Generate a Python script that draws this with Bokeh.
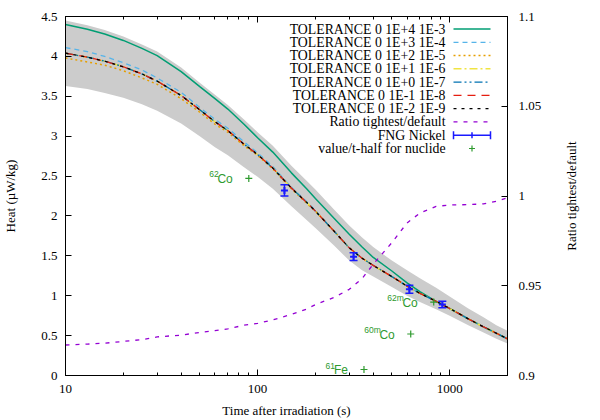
import math
from bokeh.plotting import figure
from bokeh.layouts import row
from bokeh.models import (Range1d, LinearAxis, LogAxis, FixedTicker, CustomJSTickFormatter,
                          ColumnDataSource, LinearScale)
from bokeh.core.properties import value
from bokeh.embed import file_html
from bokeh.resources import INLINE

# ---------------- data ----------------
times = [10, 13, 16, 20, 25, 30, 40, 50, 60, 70, 85, 100, 120, 150, 180, 200, 250, 300,
         350, 400, 500, 600, 700, 850, 1000, 1250, 1500, 1750, 2000]
tol_p4_m3 = [4.40, 4.34, 4.28, 4.20, 4.10, 4.01, 3.81, 3.62, 3.47, 3.34, 3.15, 2.98, 2.80, 2.54,
             2.34, 2.22, 1.97, 1.77, 1.61, 1.48, 1.31, 1.16, 1.05, 0.93, 0.84, 0.71, 0.61, 0.53, 0.46]
tol_p3_m4 = [4.11, 4.06, 4.00, 3.92, 3.83, 3.73, 3.55, 3.36, 3.21, 3.10, 2.93, 2.79, 2.62, 2.36,
             2.18, 2.07, 1.81, 1.60, 1.47, 1.38, 1.24, 1.12, 1.03, 0.93, 0.84, 0.71, 0.61, 0.53, 0.46]
tol_p2_m5 = [3.98, 3.93, 3.89, 3.82, 3.73, 3.65, 3.47, 3.30, 3.15, 3.05, 2.88, 2.76, 2.59, 2.34,
             2.16, 2.06, 1.81, 1.60, 1.47, 1.38, 1.24, 1.12, 1.03, 0.93, 0.84, 0.71, 0.61, 0.53, 0.46]
tol_p1_m6 = [4.04, 3.99, 3.94, 3.87, 3.78, 3.69, 3.51, 3.33, 3.18, 3.07, 2.90, 2.77, 2.60, 2.35,
             2.17, 2.06, 1.81, 1.60, 1.47, 1.38, 1.24, 1.12, 1.03, 0.93, 0.84, 0.71, 0.61, 0.53, 0.46]
tol_p0_m7 = [4.04, 3.99, 3.94, 3.87, 3.78, 3.69, 3.51, 3.33, 3.18, 3.07, 2.90, 2.77, 2.60, 2.35,
             2.17, 2.06, 1.81, 1.60, 1.47, 1.38, 1.24, 1.12, 1.03, 0.93, 0.84, 0.71, 0.61, 0.53, 0.46]
tol_m1_m8 = [4.04, 3.99, 3.94, 3.87, 3.78, 3.69, 3.51, 3.33, 3.18, 3.07, 2.90, 2.77, 2.60, 2.35,
             2.17, 2.06, 1.81, 1.60, 1.47, 1.38, 1.24, 1.12, 1.03, 0.93, 0.84, 0.71, 0.61, 0.53, 0.46]
tol_m2_m9 = [4.04, 3.99, 3.94, 3.87, 3.78, 3.69, 3.51, 3.33, 3.18, 3.07, 2.90, 2.77, 2.60, 2.35,
             2.17, 2.06, 1.81, 1.60, 1.47, 1.38, 1.24, 1.12, 1.03, 0.93, 0.84, 0.71, 0.61, 0.53, 0.46]
band_upper = [4.45, 4.39, 4.33, 4.25, 4.15, 4.06, 3.86, 3.67, 3.52, 3.39, 3.21, 3.05, 2.88, 2.63,
              2.44, 2.33, 2.08, 1.88, 1.73, 1.61, 1.44, 1.32, 1.22, 1.10, 0.99, 0.84, 0.73, 0.63, 0.56]
band_lower = [3.63, 3.59, 3.54, 3.48, 3.40, 3.32, 3.16, 3.00, 2.86, 2.76, 2.61, 2.49, 2.34, 2.12,
              1.95, 1.85, 1.63, 1.44, 1.32, 1.24, 1.11, 1.00, 0.92, 0.83, 0.75, 0.63, 0.54, 0.46, 0.40]
ratio = [0.917, 0.9175, 0.918, 0.919, 0.920, 0.9215, 0.9225, 0.924, 0.925, 0.926, 0.928, 0.929,
         0.931, 0.934, 0.937, 0.9395, 0.9435, 0.948, 0.954, 0.962, 0.974, 0.985, 0.9905, 0.9942,
         0.995, 0.9952, 0.9956, 0.997, 0.999]

fng_t = [138, 316, 617, 916]
fng_heat = [2.32, 1.49, 1.08, 0.89]
fng_err = [0.07, 0.05, 0.05, 0.04]

nuc_t = [90, 826, 627, 358]
nuc_val = [2.47, 0.92, 0.52, 0.075]
nuc_mass = ["62", "62m", "60m", "61"]
nuc_elem = ["Co", "Co", "Co", "Fe"]

x_ticks = [10, 100, 1000]
x_minor = [20, 30, 40, 50, 60, 70, 80, 90, 200, 300, 400, 500, 600, 700, 800, 900, 2000]
y_ticks = [0, 0.5, 1, 1.5, 2, 2.5, 3, 3.5, 4, 4.5]
y2_ticks = [0.9, 0.95, 1.0, 1.05, 1.1]

legend_labels = ["TOLERANCE 0 1E+4 1E-3", "TOLERANCE 0 1E+3 1E-4", "TOLERANCE 0 1E+2 1E-5",
                 "TOLERANCE 0 1E+1 1E-6", "TOLERANCE 0 1E+0 1E-7", "TOLERANCE 0 1E-1 1E-8",
                 "TOLERANCE 0 1E-2 1E-9", "Ratio tightest/default", "FNG Nickel",
                 "value/t-half for nuclide"]
y2_title = "Ratio tightest/default"

series = [tol_p4_m3, tol_p3_m4, tol_p2_m5, tol_p1_m6, tol_p0_m7, tol_m1_m8, tol_m2_m9]
styles = [("#009e73", "solid", 1.5), ("#56b4e9", "5 4", 1.3), ("#e69f00", "2 3", 1.5),
          ("#f0e442", "8 3 2 3", 1.5), ("#0072b2", "8 3 2 3 2 3", 1.3),
          ("#e51e10", "8 6", 1.3), ("#000000", "3 5", 1.3)]
PURPLE = "#9400d3"
BLUE = "#1a1aff"
GREEN = "#2e9a2e"
SERIF = "Liberation Serif"
SANS = "Liberation Sans"

# ---------------- main figure ----------------
p = figure(width=555, height=420, x_axis_type="log", x_range=Range1d(10, 2000),
           y_range=Range1d(0, 4.5), output_backend="svg", toolbar_location=None,
           min_border_left=65, min_border_right=48, min_border_top=16, min_border_bottom=43)
p.background_fill_color = "white"
p.border_fill_color = "white"
p.outline_line_color = "black"
p.outline_line_width = 1
p.xgrid.visible = False
p.ygrid.visible = False

p.extra_y_ranges = {"ratio": Range1d(0.9, 1.1), "lgy": Range1d(0, 361)}
p.extra_x_ranges = {"lgx": Range1d(0, 442)}
p.extra_x_scales = {"lgx": LinearScale()}

fmt = CustomJSTickFormatter(code="return String(tick);")

def style_axis(ax, minor=True):
    ax.major_tick_in = 6
    ax.major_tick_out = 0
    ax.minor_tick_in = 3 if minor else 0
    ax.minor_tick_out = 0
    if not minor:
        ax.minor_tick_line_color = None
    ax.axis_line_color = "black"
    ax.major_tick_line_color = "black"
    ax.major_label_text_font = SERIF
    ax.major_label_text_font_size = "13px"
    ax.major_label_text_color = "black"
    ax.axis_label_text_font = SERIF
    ax.axis_label_text_font_size = "13px"
    ax.axis_label_text_font_style = "normal"
    ax.axis_label_text_color = "black"

xa = p.xaxis[0]
xa.ticker = FixedTicker(ticks=x_ticks, minor_ticks=x_minor)
xa.formatter = fmt
xa.axis_label = "Time after irradiation (s)"
style_axis(xa)
xa.major_label_standoff = 9
xa.axis_label_standoff = 7

ya = p.yaxis[0]
ya.ticker = FixedTicker(ticks=y_ticks)
ya.formatter = fmt
ya.axis_label = "Heat (µW/kg)"
style_axis(ya, minor=False)
ya.major_label_standoff = 8
ya.axis_label_standoff = 20

top = LogAxis(ticker=FixedTicker(ticks=x_ticks, minor_ticks=x_minor), formatter=fmt)
style_axis(top)
top.major_label_text_font_size = "1px"
top.major_label_text_alpha = 0
top.major_label_standoff = 0
p.add_layout(top, "above")

y2 = LinearAxis(y_range_name="ratio", ticker=FixedTicker(ticks=y2_ticks), formatter=fmt)
style_axis(y2, minor=False)
y2.major_label_standoff = 11
p.add_layout(y2, "right")

# ---------------- data glyphs ----------------
p.varea(x=times, y1=band_lower, y2=band_upper, fill_color="#cccccc", fill_alpha=1.0)

for ys, (c, d, w) in zip(series, styles):
    p.line(times, ys, line_color=c, line_dash=d, line_width=w)

p.line(times, ratio, y_range_name="ratio", line_color=PURPLE, line_dash="4 6", line_width=1.3)

fsrc = ColumnDataSource(dict(t=fng_t, h=fng_heat,
                             lo=[h - e for h, e in zip(fng_heat, fng_err)],
                             hi=[h + e for h, e in zip(fng_heat, fng_err)]))
p.segment(x0="t", y0="lo", x1="t", y1="hi", source=fsrc, line_color=BLUE, line_width=1.5)
p.scatter("t", "lo", source=fsrc, marker="dash", size=8, line_color=BLUE, line_width=1.5)
p.scatter("t", "hi", source=fsrc, marker="dash", size=8, line_color=BLUE, line_width=1.5)
p.scatter("t", "h", source=fsrc, marker="cross", size=7, line_color=BLUE, line_width=2)

nsrc = ColumnDataSource(dict(t=nuc_t, v=nuc_val, mass=nuc_mass, elem=nuc_elem,
                             xo=[-30 if e == "Co" else -29 for e in nuc_elem]))
p.scatter("t", "v", source=nsrc, marker="cross", size=7, line_color=GREEN, line_width=1.2)
p.text("t", "v", text="elem", source=nsrc, x_offset=-16, y_offset=0.5, text_align="right",
       text_baseline="middle", text_color=GREEN, text_font=value(SANS), text_font_size="12px")
p.text("t", "v", text="mass", source=nsrc, x_offset="xo", y_offset=-4, text_align="right",
       text_baseline="middle", text_color=GREEN, text_font=value(SANS), text_font_size="8.5px")

# ---------------- legend (drawn in frame-pixel ranges) ----------------
row_y = [348.4 - 13.35 * i for i in range(len(legend_labels))]
p.text(x=[380] * len(legend_labels), y=row_y, text=legend_labels, x_range_name="lgx",
       y_range_name="lgy", text_align="right", text_baseline="middle",
       text_font=value(SERIF), text_font_size="13.8px", text_color="black")
for i, (c, d, w) in enumerate(styles):
    p.line([388, 425], [row_y[i], row_y[i]], x_range_name="lgx", y_range_name="lgy",
           line_color=c, line_dash=d, line_width=w)
p.line([388, 425], [row_y[7], row_y[7]], x_range_name="lgx", y_range_name="lgy",
       line_color=PURPLE, line_dash="4 6", line_width=1.3)
p.line([388, 425], [row_y[8], row_y[8]], x_range_name="lgx", y_range_name="lgy",
       line_color=BLUE, line_width=1.5)
p.segment(x0=[388, 425, 406.5], y0=[row_y[8] - 4, row_y[8] - 4, row_y[8] - 3],
          x1=[388, 425, 406.5], y1=[row_y[8] + 4, row_y[8] + 4, row_y[8] + 3],
          x_range_name="lgx", y_range_name="lgy", line_color=BLUE, line_width=1.5)
p.scatter([406.5], [row_y[9]], x_range_name="lgx", y_range_name="lgy", marker="cross",
          size=6, line_color=GREEN, line_width=1.2)

# ---------------- narrow side panel carrying the right-hand title ----------------
# (its left-axis title reads bottom-to-top, like the reference's y2 title)
q = figure(width=45, height=420, x_range=Range1d(0, 1), y_range=Range1d(0.9, 1.1),
           output_backend="svg", toolbar_location=None,
           min_border_left=23, min_border_right=0, min_border_top=16, min_border_bottom=43)
q.background_fill_color = "white"
q.border_fill_color = "white"
q.outline_line_color = None
q.xgrid.visible = False
q.ygrid.visible = False
q.xaxis.visible = False
qa = q.yaxis[0]
qa.ticker = FixedTicker(ticks=[1.0])
qa.axis_label = y2_title
qa.axis_label_text_font = SERIF
qa.axis_label_text_font_size = "13px"
qa.axis_label_text_font_style = "normal"
qa.axis_label_text_color = "black"
qa.axis_label_standoff = 0
qa.axis_line_color = None
qa.major_tick_line_color = None
qa.minor_tick_line_color = None
qa.major_tick_out = 0
qa.major_tick_in = 0
qa.major_label_text_font_size = "1px"
qa.major_label_text_alpha = 0
qa.major_label_standoff = 0

layout = row(p, q)
open("out.html", "w").write(file_html(layout, INLINE))
